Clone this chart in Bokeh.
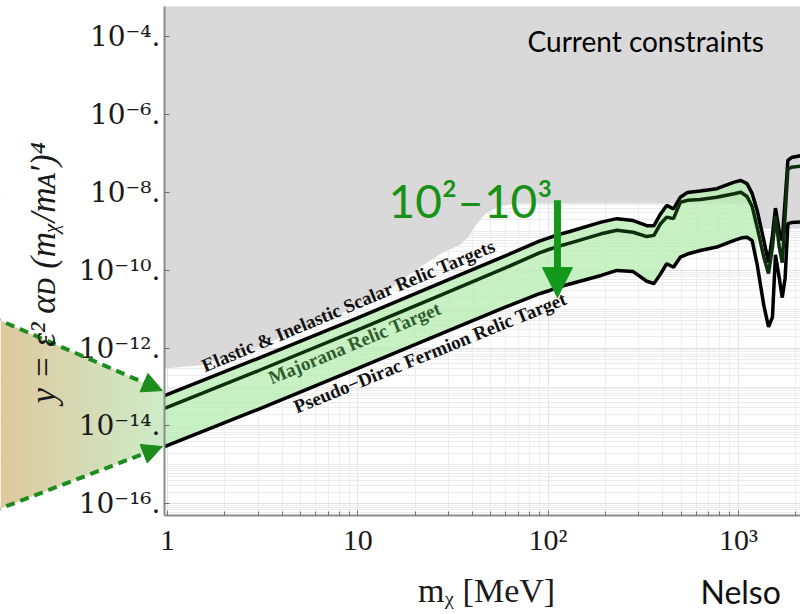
import numpy as np
from bokeh.plotting import figure
from bokeh.models import Range1d, FixedTicker, Label, Arrow, NormalHead
from bokeh.embed import file_html
from bokeh.resources import INLINE

# ---------------- data ----------------
mass_mev = [0.965, 3, 10, 30, 60, 90, 100, 110, 130, 190, 230, 280, 330, 360, 390, 420,
            456, 495, 540, 630, 770, 950, 1030, 1110, 1180, 1255, 1360, 1440, 1510, 1566,
            1640, 1700, 1760, 1820, 1900, 2300]
log10_y_scalar = [-13.22, -12.26, -11.22, -10.24, -9.62, -9.25, -9.17, -9.10, -9.00, -8.76,
                  -8.67, -8.72, -8.85, -8.85, -8.55, -8.33, -8.42, -8.12, -8.00, -7.96,
                  -7.90, -7.73, -7.69, -7.77, -8.02, -8.46, -9.23, -9.80, -9.10, -8.40,
                  -9.00, -9.23, -8.20, -7.17, -7.10, -7.02]
log10_y_majorana = [-13.55, -12.58, -11.53, -10.55, -9.93, -9.55, -9.47, -9.40, -9.30, -9.06,
                    -8.97, -9.02, -9.13, -9.10, -8.80, -8.63, -8.67, -8.25, -8.20, -8.18,
                    -8.12, -8.03, -7.99, -8.10, -8.35, -8.89, -9.66, -10.08, -9.40, -8.60,
                    -9.40, -9.80, -8.60, -7.40, -7.35, -7.30]
log10_y_pseudo_dirac = [-14.53, -13.57, -12.52, -11.55, -10.94, -10.60, -10.53, -10.45, -10.35, -10.13,
                        -10.00, -10.03, -10.28, -10.34, -10.09, -9.83, -9.92, -9.66, -9.58, -9.49,
                        -9.40, -9.23, -9.17, -9.15, -9.23, -9.85, -10.90, -11.45, -11.20, -9.60,
                        -10.20, -10.70, -10.20, -8.80, -8.77, -8.75]
band_last_mass = 1255  # green relic band drawn up to this mass

constraint_mass = [0.965, 1.5, 2, 3, 5, 8, 13, 20, 28, 34, 38, 42, 47, 55, 65, 1150, 1200, 2500]
constraint_log10_y = [-12.52, -12.44, -12.26, -11.96, -11.52, -11.13, -10.65, -10.00, -9.54, -9.36,
                      -9.15, -8.82, -8.54, -8.36, -8.28, -8.28, -8.92, -8.92]

x_tick_values = [1, 10, 100, 1000]
x_tick_labels = ["1", "10", "10²", "10³"]
y_tick_values = [1e-4, 1e-6, 1e-8, 1e-10, 1e-12, 1e-14, 1e-16]
y_tick_labels = ["10⁻⁴.", "10⁻⁶.", "10⁻⁸.", "10⁻¹⁰.", "10⁻¹².", "10⁻¹⁴.", "10⁻¹⁶."]

# ---------------- figure (frame covers the whole canvas; axes at fixed locations) ----------------
X_MIN, X_AXIS, X_MAX = 0.1326, 0.9643, 2120.0
Y_MIN, Y_MAX = 10 ** -18.846, 10 ** -3.062
PLOT_BOTTOM, PLOT_TOP = 10 ** -16.30, 10 ** -3.216

p = figure(width=800, height=614, x_axis_type="log", y_axis_type="log",
           x_range=Range1d(X_MIN, X_MAX), y_range=Range1d(Y_MIN, Y_MAX),
           output_backend="svg", toolbar_location=None,
           min_border_left=0, min_border_right=0, min_border_top=0, min_border_bottom=0)
p.outline_line_color = None
p.background_fill_color = "white"
p.border_fill_color = "white"

x_minor = [m * 10 ** e for e in range(0, 4) for m in range(2, 10)]
y_minor = [m * 10.0 ** e for e in range(-17, -2) for m in range(1, 10)]
xt = FixedTicker(ticks=x_tick_values, minor_ticks=x_minor)
yt = FixedTicker(ticks=y_tick_values, minor_ticks=y_minor)
p.xaxis.ticker = xt
p.yaxis.ticker = yt
p.xgrid.ticker = xt
p.ygrid.ticker = yt
p.xaxis.major_label_overrides = dict(zip(x_tick_values, x_tick_labels))
p.yaxis.major_label_overrides = dict(zip(y_tick_values, y_tick_labels))
p.yaxis.fixed_location = X_AXIS
p.yaxis.bounds = (PLOT_BOTTOM, PLOT_TOP)
p.xaxis.fixed_location = PLOT_BOTTOM
p.xaxis.bounds = (X_AXIS, X_MAX)

for g in (p.xgrid[0], p.ygrid[0]):
    g.grid_line_color = "#e2e2e2"
    g.minor_grid_line_color = "#ececec"
    g.grid_line_width = 1
    g.minor_grid_line_width = 1

for ax in (p.xaxis[0], p.yaxis[0]):
    ax.axis_line_color = "#8c8c8c"
    ax.axis_line_width = 2
    ax.major_tick_line_color = "#6e6e6e"
    ax.major_tick_in = 5
    ax.major_tick_out = 0
    ax.minor_tick_line_color = "#6e6e6e"
    ax.minor_tick_in = 4
    ax.minor_tick_out = 0
    ax.major_label_text_color = "#1a1a1a"
    ax.level = "annotation"

p.yaxis.minor_tick_line_color = None
p.yaxis.major_label_text_font = "DejaVu Serif"
p.yaxis.major_label_text_font_size = "28px"
p.yaxis.major_label_standoff = 4

p.xaxis.major_label_text_font = "Liberation Serif"
p.xaxis.major_label_text_font_size = "30px"
p.xaxis.major_label_standoff = 8

# ---------------- glyphs ----------------
# white margins around the plot area (no grid there)
p.varea(x=[X_MIN, X_MAX], y1=[Y_MIN, Y_MIN], y2=[PLOT_BOTTOM, PLOT_BOTTOM], fill_color="white")
p.varea(x=[X_MIN, X_MAX], y1=[PLOT_TOP, PLOT_TOP], y2=[Y_MAX, Y_MAX], fill_color="white")
p.varea(x=[X_MIN, X_AXIS], y1=[Y_MIN, Y_MIN], y2=[Y_MAX, Y_MAX], fill_color="white")

p.varea(x=constraint_mass, y1=[10 ** v for v in constraint_log10_y],
        y2=[PLOT_TOP] * len(constraint_mass), fill_color="#d9d9d9")

n_band = mass_mev.index(band_last_mass) + 1
p.varea(x=mass_mev[:n_band], y1=[10 ** v for v in log10_y_pseudo_dirac[:n_band]],
        y2=[10 ** v for v in log10_y_scalar[:n_band]], fill_color="#b5ecb0", fill_alpha=0.75)

p.line(mass_mev, [10 ** v for v in log10_y_scalar], line_color="black", line_width=3.5)
p.line(mass_mev, [10 ** v for v in log10_y_majorana], line_color="#0e2e0e", line_width=3.5)
p.line(mass_mev, [10 ** v for v in log10_y_pseudo_dirac], line_color="black", line_width=3.5)

# ---------------- left-side gradient wedge with dashed arrows ----------------
arrow_x_start, arrow_x_tip = 0.1325, 0.94
upper_start, upper_tip = -11.29, -13.09
lower_start, lower_tip = -16.12, -14.53
lxs, lxt = np.log10(arrow_x_start), np.log10(arrow_x_tip)
lx0, lx1 = np.log10(X_MIN), np.log10(X_AXIS)

def edge(lx, a, b):
    return a + (b - a) * (lx - lxs) / (lxt - lxs)

c_left = np.array([222, 200, 158])
c_right = np.array([205, 236, 200])
n_strips = 30
for i in range(n_strips):
    la = lx0 + (lx1 - lx0) * i / n_strips
    lb = min(lx0 + (lx1 - lx0) * (i + 1.4) / n_strips, lx1)
    t = (i + 0.5) / n_strips
    col = "#%02x%02x%02x" % tuple(int(round(v)) for v in c_left + (c_right - c_left) * t)
    p.patch(x=[10 ** la, 10 ** lb, 10 ** lb, 10 ** la],
            y=[10 ** edge(la, upper_start, upper_tip), 10 ** edge(lb, upper_start, upper_tip),
               10 ** edge(lb, lower_start, lower_tip), 10 ** edge(la, lower_start, lower_tip)],
            fill_color=col, line_color=None)

for a, b in ((upper_start, upper_tip), (lower_start, lower_tip)):
    p.add_layout(Arrow(end=NormalHead(size=20, fill_color="#1c8c1c", line_color="#1c8c1c"),
                       x_start=0.12, y_start=10 ** edge(np.log10(0.12), a, b),
                       x_end=arrow_x_tip, y_end=10 ** b,
                       line_color="#1c8c1c", line_width=4, line_dash="9 6"))

# ---------------- axis titles ----------------
p.add_layout(Label(x=0.2231, y=10 ** -13.42, text="y = ε² αᴅ (mᵪ/mᴀ′)⁴", angle=np.pi / 2,
                   text_font="Liberation Serif", text_font_style="italic", text_font_size="35px",
                   text_color="#1a1a1a", text_align="left", text_baseline="alphabetic"))
p.add_layout(Label(x=47.5, y=10 ** -18.239, text="mᵪ [MeV]",
                   text_font="Liberation Serif", text_font_size="34px",
                   text_color="#1a1a1a", text_align="center", text_baseline="alphabetic"))

# ---------------- curve labels ----------------
serif_bold = dict(text_font="Liberation Serif", text_font_style="bold", text_font_size="19px",
                  text_baseline="alphabetic", text_align="left")
p.add_layout(Label(x=1.529, y=10 ** -12.470, text="Elastic & Inelastic Scalar Relic Targets",
                   angle=0.395, text_color="#111111", **serif_bold))
p.add_layout(Label(x=3.427, y=10 ** -12.78, text="Majorana Relic Target",
                   angle=0.395, text_color="#2e5e2e", **serif_bold))
p.add_layout(Label(x=4.655, y=10 ** -13.525, text="Pseudo−Dirac Fermion Relic Target",
                   angle=0.385, text_color="#111111", **serif_bold))

p.add_layout(Label(x=78, y=10 ** -4.111, text="Current constraints", text_font="Lato",
                   text_font_size="28px", text_color="black", text_baseline="alphabetic"))
p.add_layout(Label(x=14.5, y=10 ** -8.193, text="10²–10³", text_font="Lato",
                   text_font_size="46px", text_color="#179217", text_baseline="alphabetic"))
p.add_layout(Arrow(end=NormalHead(size=30, fill_color="#13981a", line_color="#13981a"),
                   x_start=112, y_start=10 ** -8.20, x_end=112, y_end=10 ** -10.70,
                   line_color="#13981a", line_width=7))

p.add_layout(Label(x=632, y=10 ** -18.254, text="Nelso", text_font="Lato",
                   text_font_size="32px", text_color="#111111", text_baseline="alphabetic"))

open("out.html", "w").write(file_html(p, INLINE))
